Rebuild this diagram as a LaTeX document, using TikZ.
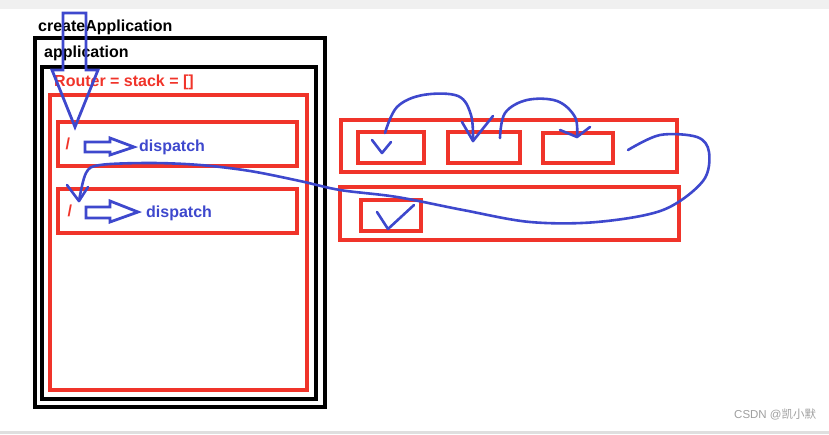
\documentclass[tikz,border=0pt]{standalone}
\usepackage{fontspec}
\setmainfont{Liberation Sans}
\newfontfamily\cjk{Noto Sans CJK SC}
\usetikzlibrary{positioning}

\definecolor{penred}{RGB}{240,52,42}
\definecolor{penblue}{RGB}{62,72,205}

\tikzset{
  blackbox/.style={draw=black, line width=3.4pt, inner sep=0pt},
  redbox/.style={draw=penred, line width=3.1pt, inner sep=0pt},
  label/.style={font=\fontsize{16}{18}\selectfont\bfseries, inner sep=0pt, anchor=west},
  stroke/.style={draw=penblue, line width=2.6pt, line cap=round, line join=round},
  blockarrow/.style={draw=penblue, line width=2.8pt, line join=miter}
}

\begin{document}
\begin{tikzpicture}[x=1pt, y=-1pt]
 \useasboundingbox (0,0) rectangle (829,434);
 \fill[gray!12] (0,0) rectangle (829,9);
 \fill[gray!25] (0,431) rectangle (829,434);

 %Frames
 \node (outer) [blackbox, minimum width=290pt, minimum height=369pt] at (180,222.5) {};
 \node (inner) [blackbox, minimum width=274pt, minimum height=332pt] at (179,233) {};
 \node (router) [redbox, minimum width=257pt, minimum height=295pt] at (178.5,242.5) {};
 \node (row1) [redbox, minimum width=239pt, minimum height=44pt] at (177.5,144) {};
 \node (row2) [redbox, minimum width=239pt, minimum height=44pt] at (177.5,211) {};

 %Stack
 \node (stackA) [redbox, minimum width=336pt, minimum height=52pt] at (509,146) {};
 \node (b1) [redbox, minimum width=66pt, minimum height=31pt] at (391,147.5) {};
 \node (b2) [redbox, minimum width=72pt, minimum height=31pt] at (484,147.5) {};
 \node (b3) [redbox, minimum width=70pt, minimum height=30pt] at (578,148) {};
 \node (stackB) [redbox, minimum width=339pt, minimum height=53pt] at (509.5,213.5) {};
 \node (b4) [redbox, minimum width=60pt, minimum height=31pt] at (391,215.5) {};

 %Names
 \node (create) [label] at (38,27) {createApplication};
 \node (app) [label] at (44,53) {application};
 \node (stack) [label, text=penred] at (54,82) {Router = stack = []};
 \node (slash1) [label, text=penred, right=9pt of row1.west] {/};
 \node (slash2) [label, text=penred, right=11pt of row2.west] {/};
 \node (disp1) [label, text=penblue] at (139,147) {dispatch};
 \node (disp2) [label, text=penblue] at (146,213) {dispatch};

 %Block arrows
 \draw[blockarrow] (63,13) -- (86,13) -- (86,70) -- (98,70) -- (75,127) -- (52,70) -- (63,70) -- cycle;
 \draw[blockarrow] (85,142) -- (110,142) -- (110,138) -- (134,147) -- (110,155) -- (110,152) -- (85,152) -- cycle;
 \draw[blockarrow] (86,207) -- (110,207) -- (110,201) -- (138,212) -- (110,222) -- (110,218) -- (86,218) -- cycle;

 %Coordinates
 \coordinate (c1) at (385,133);
 \coordinate (c2) at (473,141);
 \coordinate (c3) at (500,138);
 \coordinate (c4) at (577,137);
 \coordinate (c5) at (628,150);
 \coordinate (c6) at (79,201);

 %Pen strokes
 \draw[stroke] (372,140) -- (382,153) -- (391,142);
 \draw[stroke] (377,212) -- (388,229) -- (414,205);
 \draw[stroke] plot[smooth, tension=0.6] coordinates {(c1) (397,107) (423,95) (458,96) (471,115) (c2)};
 \draw[stroke] (462,122) -- (c2) -- (493,116);
 \draw[stroke] plot[smooth, tension=0.6] coordinates {(c3) (505,113) (527,100) (557,101) (575,117) (c4)};
 \draw[stroke] (560,130) -- (c4) -- (590,127);
 \draw[stroke] plot[smooth, tension=0.55] coordinates {(c5) (660,135) (697,137) (709,152) (703,181) (663,210) (597,222) (530,222) (463,210) (397,197) (340,190) (300,181) (250,171) (200,165) (150,163) (100,165) (86,173) (c6)};
 \draw[stroke] (67,185) -- (c6) -- (88,187);

 %Watermark
 \node (mark) [anchor=west, inner sep=0pt, text=gray!75, font=\fontsize{11.5}{13}\selectfont] at (734,414) {CSDN @{\cjk 凯小默}};
\end{tikzpicture}
\end{document}
